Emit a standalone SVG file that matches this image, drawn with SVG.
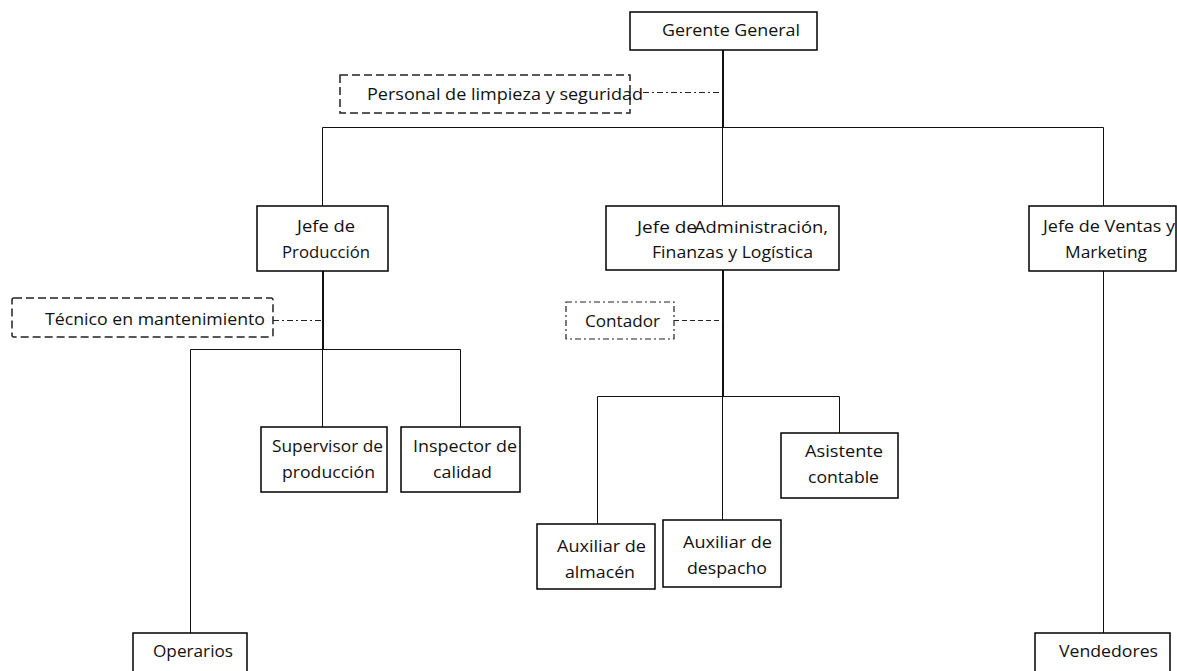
<svg xmlns="http://www.w3.org/2000/svg" width="1177" height="671" viewBox="0 0 1177 671">
  <style>
    .box { fill: #ffffff; stroke: #000000; stroke-width: 1.5; }
    .dash { fill: #ffffff; stroke: #222222; stroke-width: 1.5; stroke-dasharray: 8 4; }
    .dashdot { fill: #ffffff; stroke: #222222; stroke-width: 1.2; stroke-dasharray: 6 3 2 3; }
    .lbl { font-family: "Open Sans", "Liberation Sans", sans-serif; font-size: 16px; fill: #111111; }
    .thin { stroke: #111111; stroke-width: 1; fill: none; }
    .thick { stroke: #111111; stroke-width: 2; fill: none; }
    .ddline { stroke: #222222; stroke-width: 1; stroke-dasharray: 6 3 2 3; fill: none; }
    .dline { stroke: #222222; stroke-width: 1; stroke-dasharray: 5 3; fill: none; }
  </style>

  <!-- connectors (thin lines sit on half pixels to stay crisp) -->
  <g id="connectors">
    <!-- Gerente General trunk and top bus -->
    <line class="thick" x1="723" y1="50" x2="723" y2="127"/>
    <line class="thin" x1="322.5" y1="127.5" x2="1103.5" y2="127.5"/>
    <line class="thin" x1="322.5" y1="127.5" x2="322.5" y2="206"/>
    <line class="thin" x1="722.5" y1="127.5" x2="722.5" y2="206"/>
    <line class="thin" x1="1103.5" y1="127.5" x2="1103.5" y2="206"/>
    <line class="ddline" x1="643" y1="92.5" x2="723" y2="92.5"/>

    <!-- Produccion branch -->
    <line class="thick" x1="323" y1="271" x2="323" y2="349"/>
    <line class="ddline" x1="273" y1="320.5" x2="323" y2="320.5"/>
    <line class="thin" x1="190.5" y1="349.5" x2="460.5" y2="349.5"/>
    <line class="thin" x1="190.5" y1="349.5" x2="190.5" y2="633"/>
    <line class="thin" x1="322.5" y1="349.5" x2="322.5" y2="427"/>
    <line class="thin" x1="460.5" y1="349.5" x2="460.5" y2="427"/>

    <!-- Administracion branch -->
    <line class="thick" x1="723" y1="270" x2="723" y2="396"/>
    <line class="dline" x1="674" y1="320.5" x2="723" y2="320.5"/>
    <line class="thin" x1="597.5" y1="396.5" x2="839.5" y2="396.5"/>
    <line class="thin" x1="597.5" y1="396.5" x2="597.5" y2="524"/>
    <line class="thin" x1="722.5" y1="396.5" x2="722.5" y2="520"/>
    <line class="thin" x1="839.5" y1="396.5" x2="839.5" y2="433"/>

    <!-- Ventas branch -->
    <line class="thin" x1="1103.5" y1="271" x2="1103.5" y2="633"/>
  </g>

  <g id="gerente-general">
    <rect class="box" x="630" y="12" width="187" height="38"/>
    <text class="lbl" x="662" y="36" textLength="138" lengthAdjust="spacingAndGlyphs">Gerente General</text>
  </g>

  <g id="personal-limpieza">
    <rect class="dash" x="340" y="75" width="290" height="38"/>
    <text class="lbl" x="367" y="100" textLength="276" lengthAdjust="spacingAndGlyphs">Personal de limpieza y seguridad</text>
  </g>

  <g id="jefe-produccion">
    <rect class="box" x="257" y="206" width="131" height="65"/>
    <text class="lbl" x="297" y="232" textLength="58" lengthAdjust="spacingAndGlyphs">Jefe de</text>
    <text class="lbl" x="282" y="258" textLength="88" lengthAdjust="spacingAndGlyphs">Producción</text>
  </g>

  <g id="tecnico-mantenimiento">
    <rect class="dash" x="12" y="298" width="261" height="39" rx="2"/>
    <text class="lbl" x="45" y="325" textLength="220" lengthAdjust="spacingAndGlyphs">Técnico en mantenimiento</text>
  </g>

  <g id="jefe-administracion">
    <rect class="box" x="606" y="206" width="233" height="64"/>
    <text class="lbl" x="637" y="233" textLength="60" lengthAdjust="spacingAndGlyphs">Jefe de</text>
    <text class="lbl" x="694" y="233" textLength="134" lengthAdjust="spacingAndGlyphs">Administración,</text>
    <text class="lbl" x="652" y="258" textLength="161" lengthAdjust="spacingAndGlyphs">Finanzas y Logística</text>
  </g>

  <g id="contador">
    <rect class="dashdot" x="566" y="302" width="108" height="37"/>
    <text class="lbl" x="585" y="327" textLength="75" lengthAdjust="spacingAndGlyphs">Contador</text>
  </g>

  <g id="jefe-ventas">
    <rect class="box" x="1029" y="206" width="147" height="65"/>
    <text class="lbl" x="1043" y="232" textLength="132" lengthAdjust="spacingAndGlyphs">Jefe de Ventas y</text>
    <text class="lbl" x="1065" y="258" textLength="82" lengthAdjust="spacingAndGlyphs">Marketing</text>
  </g>

  <g id="supervisor-produccion">
    <rect class="box" x="261" y="427" width="126" height="65"/>
    <text class="lbl" x="272" y="452" textLength="111" lengthAdjust="spacingAndGlyphs">Supervisor de</text>
    <text class="lbl" x="282" y="478" textLength="93" lengthAdjust="spacingAndGlyphs">producción</text>
  </g>

  <g id="inspector-calidad">
    <rect class="box" x="401" y="427" width="119" height="65"/>
    <text class="lbl" x="413" y="452" textLength="104" lengthAdjust="spacingAndGlyphs">Inspector de</text>
    <text class="lbl" x="433" y="478" textLength="59" lengthAdjust="spacingAndGlyphs">calidad</text>
  </g>

  <g id="asistente-contable">
    <rect class="box" x="781" y="433" width="117" height="65"/>
    <text class="lbl" x="805" y="457" textLength="78" lengthAdjust="spacingAndGlyphs">Asistente</text>
    <text class="lbl" x="808" y="483" textLength="71" lengthAdjust="spacingAndGlyphs">contable</text>
  </g>

  <g id="auxiliar-almacen">
    <rect class="box" x="537" y="524" width="118" height="65"/>
    <text class="lbl" x="557" y="552" textLength="89" lengthAdjust="spacingAndGlyphs">Auxiliar de</text>
    <text class="lbl" x="565" y="578" textLength="70" lengthAdjust="spacingAndGlyphs">almacén</text>
  </g>

  <g id="auxiliar-despacho">
    <rect class="box" x="663" y="520" width="118" height="67"/>
    <text class="lbl" x="683" y="548" textLength="89" lengthAdjust="spacingAndGlyphs">Auxiliar de</text>
    <text class="lbl" x="687" y="574" textLength="80" lengthAdjust="spacingAndGlyphs">despacho</text>
  </g>

  <g id="operarios">
    <rect class="box" x="133" y="633" width="114" height="50"/>
    <text class="lbl" x="153" y="657" textLength="80" lengthAdjust="spacingAndGlyphs">Operarios</text>
  </g>

  <g id="vendedores">
    <rect class="box" x="1035" y="633" width="135" height="50"/>
    <text class="lbl" x="1059" y="657" textLength="99" lengthAdjust="spacingAndGlyphs">Vendedores</text>
  </g>
</svg>
